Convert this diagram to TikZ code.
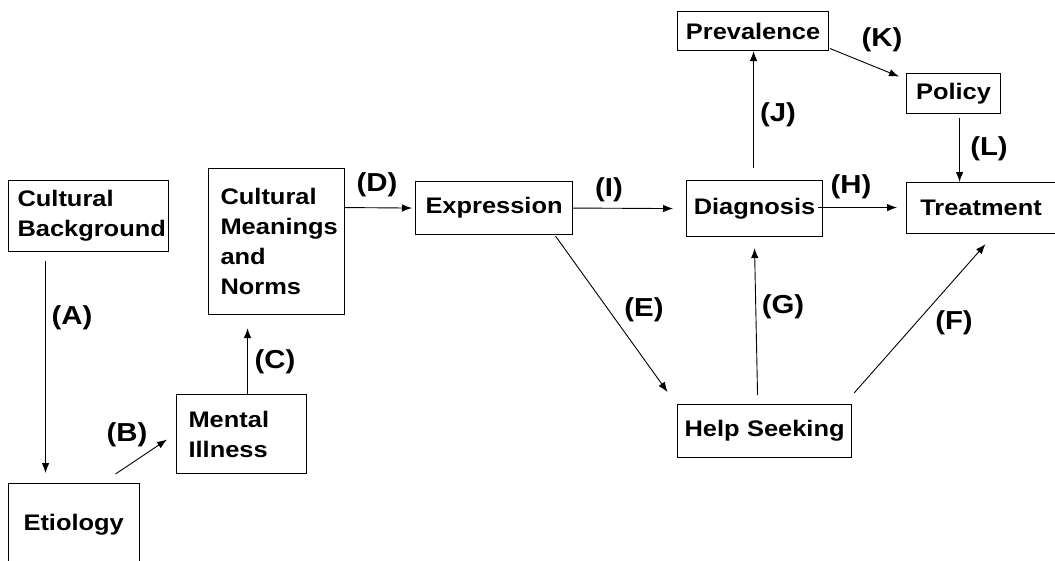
\documentclass[tikz,border=0pt]{standalone}
\usepackage{fontspec}
\setmainfont{Liberation Sans}[FakeStretch=1.13]
\usetikzlibrary{arrows.meta,calc}
\begin{document}
\begin{tikzpicture}[x=1pt,y=-1pt,
  box/.style={draw,line width=1.1pt,anchor=north west,inner ysep=0pt,align=left,
    font=\fontsize{22.5}{30}\selectfont\bfseries},
  lab/.style={inner sep=0pt,font=\fontsize{26}{30}\selectfont\bfseries},
  arr/.style={line width=0.9pt,-{Latex[length=10pt,width=7.5pt]}}]
\useasboundingbox (0,0) rectangle (1055,560);
\begin{scope}
\clip (0,0) rectangle (1055,560);
\node[box,text width=142pt,inner xsep=9pt,minimum height=71pt] (cb) at (8,180) {Cultural\\Background};
\node[box,text width=112pt,inner xsep=12pt,minimum height=146pt] (cmn) at (208,168) {Cultural\\Meanings\\and\\Norms};
\node[box,text width=106pt,inner xsep=12pt,minimum height=79pt] (mi) at (176,394) {Mental\\Illness};
\node[box,text width=101pt,inner xsep=15pt,minimum height=82pt] (et) at (8,483) {Etiology};
\node[box,text width=145pt,inner xsep=6pt,minimum height=53pt,align=center] (ex) at (415,181) {Expression};
\node[box,text width=130pt,inner xsep=3pt,minimum height=56pt,align=center] (dg) at (686,180) {Diagnosis};
\node[box,text width=137pt,inner xsep=6pt,minimum height=51pt,align=center] (tr) at (906,182) {Treatment};
\node[box,text width=145pt,inner xsep=3pt,minimum height=39pt,align=center] (pv) at (677,11) {Prevalence};
\node[box,text width=88pt,inner xsep=3pt,minimum height=40pt,align=center] (po) at (906,73) {Policy};
\node[box,text width=168pt,inner xsep=3pt,minimum height=53pt,align=center] (hs) at (677,404) {Help Seeking};
\end{scope}
% connectors
\draw[arr] ($(cb.south)+(-43,9)$) -- ($(et.north)+(-28.5,-10)$);
\draw[arr] ($(et.north)+(41.5,-9)$) -- ($(mi.west)+(-9,5.5)$);
\draw[arr] ($(mi.north)+(6,0)$) -- ($(cmn.south)+(-29,13)$);
\draw[arr] ($(cmn.east)+(0,-34)$) -- ($(ex.west)+(-3,0)$);
\draw[arr] ($(ex.east)+(0,0)$) -- ($(dg.west)+(-13,0)$);
\draw[arr] ($(ex.south)+(61.5,1)$) -- ($(hs.north)+(-97,-12)$);
\draw[arr] ($(dg.north)+(-1,-12)$) -- ($(pv.south)+(0.5,0)$);
\draw[arr] ($(pv.east)+(1,17.5)$) -- ($(po.west)+(-7,-17)$);
\draw[arr] ($(po.south)+(6,4)$) -- ($(tr.north)+(-21.5,0)$);
\draw[arr] ($(dg.east)+(-5,-1)$) -- ($(tr.west)+(-9,-0.5)$);
\draw[arr] ($(hs.north)+(-7,-9)$) -- ($(dg.south)+(0,11)$);
\draw[arr] ($(hs.north east)+(2,-11)$) -- ($(tr.south)+(4.5,10)$);
% labels
\node[lab] (la) at (72,318) {(A)};
\node[lab] (lb) at (127,435) {(B)};
\node[lab] (lc) at (275,362) {(C)};
\node[lab] (ld) at (377,185) {(D)};
\node[lab] (li) at (609,190) {(I)};
\node[lab] (le) at (644,310) {(E)};
\node[lab] (lj) at (778,115) {(J)};
\node[lab] (lk) at (882,40) {(K)};
\node[lab] (ll) at (989,149) {(L)};
\node[lab] (lh) at (851,187) {(H)};
\node[lab] (lg) at (783,307) {(G)};
\node[lab] (lf) at (954,323) {(F)};
\end{tikzpicture}
\end{document}
